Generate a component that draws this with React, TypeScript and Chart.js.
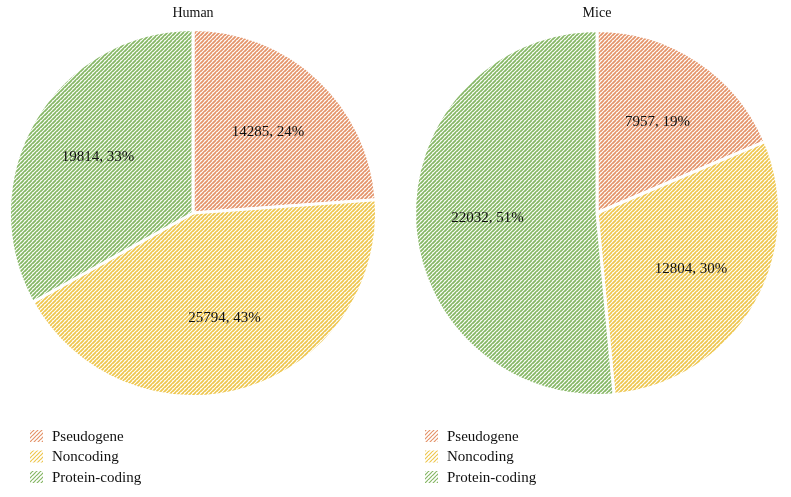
import React, { useEffect, useRef } from "react";
import { Chart, registerables } from "chart.js";

Chart.register(...registerables);

const categories = ["Pseudogene", "Noncoding", "Protein-coding"];
const humanValues = [14285, 25794, 19814];
const miceValues = [7957, 12804, 22032];
const colors = ["#E4946A", "#EEC64E", "#86B765"];
const FONT = "'Liberation Serif', 'Times New Roman', serif";

function makePattern(color: string, lw: number): CanvasPattern | string {
  const c = document.createElement("canvas");
  const s = 4;
  c.width = s;
  c.height = s;
  const g = c.getContext("2d");
  if (!g) return color;
  g.fillStyle = "#ffffff";
  g.fillRect(0, 0, s, s);
  g.strokeStyle = color;
  g.lineWidth = lw;
  g.beginPath();
  g.moveTo(0, s);
  g.lineTo(s, 0);
  g.moveTo(-s, s);
  g.lineTo(0, 0);
  g.moveTo(0, 2 * s);
  g.lineTo(2 * s, 0);
  g.stroke();
  const p = g.createPattern(c, "repeat");
  return p || color;
}

function PieChart(props: {
  title: string;
  values: number[];
  padding: { left: number; right: number; top: number; bottom: number };
  legendX: number;
}) {
  const ref = useRef<HTMLCanvasElement | null>(null);
  useEffect(() => {
    if (!ref.current) return;
    const patterns = colors.map((c) => makePattern(c, 1.8));
    const legendPatterns = colors.map((c) => makePattern(c, 1.2));
    const total = props.values.reduce((a, b) => a + b, 0);
    const overlay = {
      id: "overlay",
      afterDatasetsDraw(chart: any) {
        const ctx = chart.ctx;
        const meta = chart.getDatasetMeta(0);
        ctx.save();
        ctx.fillStyle = "#111111";
        ctx.font = `15px ${FONT}`;
        ctx.textAlign = "center";
        ctx.textBaseline = "middle";
        meta.data.forEach((arc: any, i: number) => {
          const p = arc.getProps(["x", "y", "startAngle", "endAngle", "outerRadius"], true);
          const mid = (p.startAngle + p.endAngle) / 2;
          const r = p.outerRadius * 0.6;
          const v = props.values[i];
          const pct = Math.round((v / total) * 100);
          ctx.fillText(`${v}, ${pct}%`, p.x + Math.cos(mid) * r, p.y + Math.sin(mid) * r);
        });
        // title
        ctx.font = `14px ${FONT}`;
        ctx.fillText(props.title, chart.chartArea.left + (chart.chartArea.right - chart.chartArea.left) / 2, 13);
        // legend
        ctx.textAlign = "left";
        ctx.font = `15px ${FONT}`;
        categories.forEach((cat, i) => {
          const y = 436 + i * 20.5;
          ctx.fillStyle = legendPatterns[i] as any;
          ctx.fillRect(props.legendX, y - 6, 13, 12);
          ctx.fillStyle = "#111111";
          ctx.fillText(cat, props.legendX + 22, y + 1);
        });
        ctx.restore();
      },
    };
    const chart = new Chart(ref.current, {
      type: "pie",
      data: {
        labels: categories,
        datasets: [
          {
            data: props.values,
            backgroundColor: patterns as any,
            borderColor: "#ffffff",
            borderWidth: 3,
          },
        ],
      },
      options: {
        animation: false,
        responsive: false,
        maintainAspectRatio: false,
        layout: { padding: props.padding },
        plugins: {
          legend: { display: false },
          title: { display: false },
          tooltip: { enabled: false },
        },
      },
      plugins: [overlay],
    });
    return () => chart.destroy();
  }, []);
  return <canvas ref={ref} width={395} height={497} style={{ width: 395, height: 497, display: "block" }} />;
}

export default function App() {
  return (
    <div style={{ position: "absolute", left: 0, top: 0, width: 791, height: 497, background: "#fff", display: "flex" }}>
      <PieChart title="Human" values={humanValues} padding={{ left: 8, right: 17, top: 28, bottom: 99 }} legendX={30} />
      <div style={{ width: 1 }} />
      <PieChart title="Mice" values={miceValues} padding={{ left: 17, right: 10, top: 29, bottom: 100 }} legendX={29} />
    </div>
  );
}
